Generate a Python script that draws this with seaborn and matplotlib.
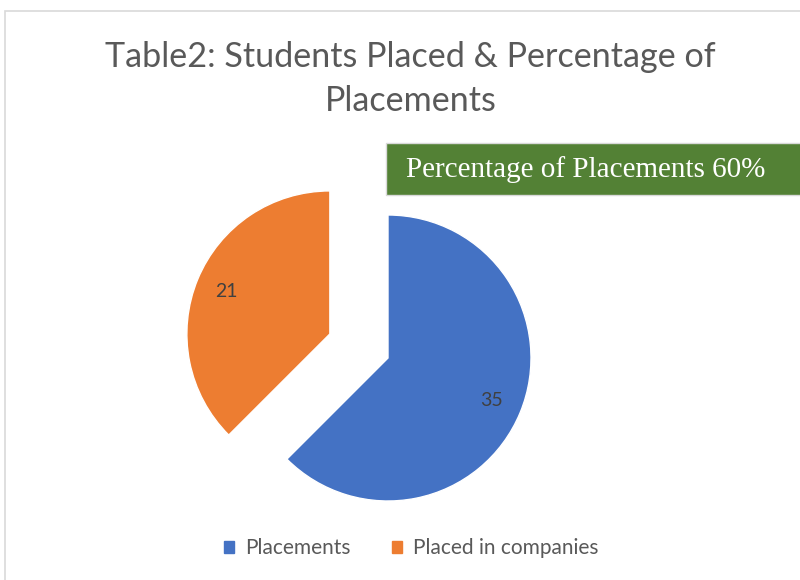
import matplotlib
matplotlib.use("Agg")
import matplotlib.pyplot as plt
import matplotlib.patches as mpatches
import seaborn as sns

# ----- data -----
categories = ["Placements", "Placed in companies"]
values = [35, 21]
title = "Table2: Students Placed & Percentage of\nPlacements"
note = "Percentage of Placements 60%"

sns.set_theme(style="white")
plt.rcParams["font.family"] = ["Lato", "DejaVu Sans"]

colors = sns.color_palette(["#4472C4", "#ED7D31"])
text_gray = "#595959"

fig = plt.figure(figsize=(8, 5.8), dpi=100)

# outer chart border (cropped on right/bottom)
fig.patches.append(mpatches.Rectangle((5 / 800, -0.1), 1.2, 1 - 11 / 580 + 0.1,
                                      transform=fig.transFigure, fill=False,
                                      edgecolor="#d9d9d9", linewidth=1.2))

# pie axes: square, centred on the main pie
ax = fig.add_axes([173.5 / 800, 7.5 / 580, 429 / 800, 429 / 580])
total = sum(values)
wedges, _, autotexts = ax.pie(
    values, colors=colors, startangle=90, counterclock=False,
    explode=[0, 0.44], autopct=lambda p: f"{round(p * total / 100):d}",
    pctdistance=0.78, textprops=dict(color="#404040", fontsize=14),
)
ax.set_xlim(-1.5, 1.5)
ax.set_ylim(-1.5, 1.5)
ax.set_aspect("equal")
ax.axis("off")

fig.text(0.513, 0.864, title, ha="center", va="center", fontsize=24.6,
         color=text_gray, linespacing=1.45)

# green note box
fig.patches.append(mpatches.Rectangle((386 / 800, 1 - 195 / 580), 0.6, 52 / 580,
                                      transform=fig.transFigure, facecolor="#538135",
                                      edgecolor="#d9d9d9", linewidth=1))
fig.text(406 / 800, 1 - 170 / 580, note, ha="left", va="center", fontsize=21,
         color="white", family="Liberation Serif")

handles = [mpatches.Patch(color=c, label=l) for c, l in zip(colors, categories)]
fig.legend(handles=handles, loc="center", bbox_to_anchor=(0.514, 1 - 548 / 580),
           ncol=2, frameon=False, fontsize=15, labelcolor=text_gray,
           handlelength=0.5, handleheight=0.5, handletextpad=0.5, columnspacing=2.0)

fig.savefig("out.png", dpi=100)
